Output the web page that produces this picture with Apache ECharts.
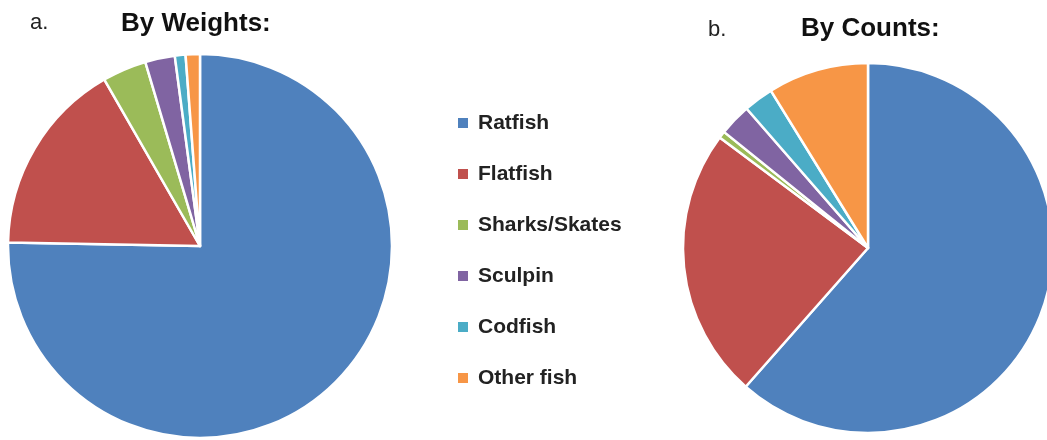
<!DOCTYPE html>
<html>
<head>
<meta charset="utf-8">
<script src="https://cdn.jsdelivr.net/npm/echarts@6/dist/echarts.min.js"></script>
<style>
  html, body { margin: 0; padding: 0; background: #fff; }
  #chart { width: 1047px; height: 440px; }
</style>
</head>
<body>
<div id="chart"></div>
<script>
// fish groups, in legend order
const categories = ['Ratfish', 'Flatfish', 'Sharks/Skates', 'Sculpin', 'Codfish', 'Other fish']
// percent shares
const byWeights = [75.3, 16.4, 3.7, 2.5, 0.9, 1.2]
const byCounts = [61.5, 23.7, 0.6, 2.8, 2.6, 8.8]
const colors = ['#4F81BD', '#C0504D', '#9BBB59', '#8064A2', '#4BACC6', '#F79646']

const font = '"Liberation Sans", Arial, sans-serif'

const toData = (vals) => vals.map((v, i) => ({ name: categories[i], value: v }))

const chart = echarts.init(document.getElementById('chart'))

const pieBase = {
  type: 'pie',
  startAngle: 90,
  clockwise: true,
  label: { show: false },
  labelLine: { show: false },
  emphasis: { disabled: true },
  itemStyle: { borderColor: '#fff', borderWidth: 2.5 },
  animation: false
}

chart.setOption({
  backgroundColor: '#fff',
  color: colors,
  title: [
    { text: 'a.', left: 25, top: 7, textStyle: { fontFamily: font, fontSize: 22, fontWeight: 'normal', color: '#222' } },
    { text: 'By Weights:', left: 116, top: 6, textStyle: { fontFamily: font, fontSize: 26, fontWeight: 'bold', color: '#111' } },
    { text: 'b.', left: 703, top: 14, textStyle: { fontFamily: font, fontSize: 22, fontWeight: 'normal', color: '#222' } },
    { text: 'By Counts:', left: 796, top: 11, textStyle: { fontFamily: font, fontSize: 26, fontWeight: 'bold', color: '#111' } }
  ],
  legend: {
    orient: 'vertical',
    left: 451,
    top: 107,
    icon: 'rect',
    itemWidth: 12,
    itemHeight: 12,
    itemGap: 29,
    selectedMode: false,
    data: categories,
    textStyle: {
      fontFamily: font,
      fontSize: 21,
      fontWeight: 'bold',
      color: '#222',
      lineHeight: 22,
      padding: [0, 0, 0, 4]
    }
  },
  series: [
    Object.assign({}, pieBase, {
      name: 'By Weights',
      center: [200, 246],
      radius: 192,
      data: toData(byWeights)
    }),
    Object.assign({}, pieBase, {
      name: 'By Counts',
      center: [868, 248],
      radius: 185,
      data: toData(byCounts)
    })
  ]
})
</script>
</body>
</html>
